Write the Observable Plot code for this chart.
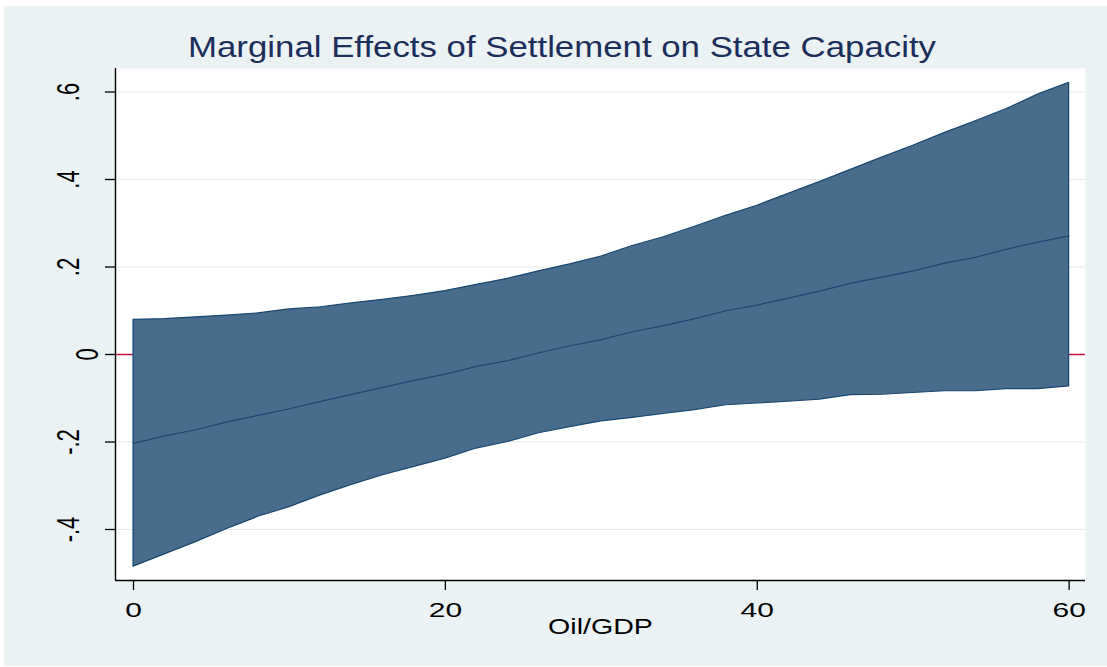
<!DOCTYPE html>
<html><head><meta charset="utf-8">
<script src="https://cdn.jsdelivr.net/npm/d3@7"></script>
<script src="https://cdn.jsdelivr.net/npm/@observablehq/plot@0.6"></script>
<style>
body{margin:0;background:#fff;}
#wrap{position:relative;width:1107px;height:667px;overflow:hidden;font-family:"Liberation Sans",Arial,sans-serif;}
#bg{position:absolute;left:4px;top:6px;width:1103px;height:660px;background:#eaf2f3;}
#chart{position:absolute;left:0;top:0;}
#title{position:absolute;left:162px;width:800px;top:33px;text-align:center;font-size:29px;line-height:29px;color:#1c2f5c;transform:scaleX(1.2);white-space:nowrap;}
</style></head><body>
<div id="wrap"><div id="bg"></div><div id="chart"></div><div id="title"></div></div>
<script>
const title = "Marginal Effects of Settlement on State Capacity";
const xLabel = "Oil/GDP";
const oilGDP = [0,2,4,6,8,10,12,14,16,18,20,22,24,26,28,30,32,34,36,38,40,42,44,46,48,50,52,54,56,58,60];
const effect = [-0.203,-0.186,-0.172,-0.154,-0.139,-0.124,-0.107,-0.091,-0.075,-0.059,-0.045,-0.027,-0.014,0.004,0.020,0.034,0.052,0.066,0.082,0.100,0.113,0.129,0.145,0.163,0.177,0.191,0.209,0.222,0.241,0.257,0.271];
const lower = [-0.485,-0.457,-0.429,-0.399,-0.371,-0.349,-0.322,-0.298,-0.276,-0.257,-0.238,-0.215,-0.200,-0.180,-0.166,-0.153,-0.145,-0.136,-0.127,-0.116,-0.112,-0.108,-0.103,-0.093,-0.092,-0.088,-0.084,-0.084,-0.079,-0.079,-0.073];
const upper = [0.079,0.081,0.085,0.089,0.094,0.103,0.108,0.117,0.125,0.134,0.145,0.159,0.173,0.190,0.206,0.224,0.248,0.268,0.292,0.317,0.340,0.367,0.394,0.422,0.450,0.477,0.506,0.533,0.561,0.594,0.621];
const xTicks = [0,20,40,60];
const yTicks = [-0.4,-0.2,0,0.2,0.4,0.6];
const yTickLabels = ["-.4","-.2","0",".2",".4",".6"];

document.getElementById("title").textContent = title;

const data = oilGDP.map((x,i)=>({x, me: effect[i], lo: lower[i], hi: upper[i]}));
const navy = "#1a476f";
const bandFill = "#476c8c";
const xDomain = [-1.155, 61.05];
const yDomain = [-0.5166, 0.6537];
const font = "Liberation Sans, Arial, sans-serif";

const plot = Plot.plot({
  width: 1107, height: 667,
  marginLeft: 115, marginRight: 22, marginTop: 68, marginBottom: 87,
  style: {background: "transparent", fontFamily: font, color: "#000", overflow: "visible"},
  x: {domain: xDomain, axis: null},
  y: {domain: yDomain, axis: null},
  marks: [
    Plot.frame({fill: "white", stroke: null}),
    Plot.gridY(yTicks.filter(d => d !== 0), {stroke: "#e2eaec", strokeOpacity: 1, strokeWidth: 1}),
    Plot.ruleY([0], {stroke: "#c8103c", strokeWidth: 1.3}),
    Plot.areaY(data, {x: "x", y1: "lo", y2: "hi", fill: bandFill, stroke: navy, strokeWidth: 1.2}),
    Plot.lineY(data, {x: "x", y: "me", stroke: navy, strokeWidth: 1.2}),
    Plot.ruleX([xDomain[0]], {stroke: "#000", strokeWidth: 1.4}),
    Plot.ruleY([yDomain[0]], {stroke: "#000", strokeWidth: 1.4}),
    Plot.axisX({ticks: xTicks, tickSize: 10, tickPadding: 12, fontSize: 20, label: null, strokeWidth: 1.3}),
    Plot.axisY({ticks: yTicks, tickSize: 10, tickFormat: () => "", label: null, strokeWidth: 1.3}),
    Plot.text(yTicks.filter(d => d !== 0), {y: d => d, text: d => yTickLabels[yTicks.indexOf(d)], frameAnchor: "left", rotate: -90, lineAnchor: "bottom", textAnchor: "middle", dx: -37, fontSize: 22, fill: "#000"}),
    Plot.text(yTicks.filter(d => d === 0), {y: d => d, text: d => yTickLabels[yTicks.indexOf(d)], frameAnchor: "left", rotate: -90, lineAnchor: "bottom", textAnchor: "middle", dx: -18, fontSize: 22, fill: "#000"}),
    Plot.text([xLabel], {frameAnchor: "bottom", dy: 53, fontSize: 22, fill: "#000"})
  ]
});
document.getElementById("chart").appendChild(plot);

function stretchNodes(nodes, s) {
  nodes.each(function() {
    const t = this.getAttribute("transform");
    const m = t && t.match(/^\s*translate\(\s*([-\d.eE]+)[\s,]+([-\d.eE]+)\s*\)(.*)$/);
    if (m) {
      this.setAttribute("transform", `translate(${m[1]},${m[2]}) scale(${s},1)${m[3]}`);
    } else {
      const x = +(this.getAttribute("x") || 0);
      this.setAttribute("transform", `translate(${x},0) scale(${s},1) translate(${-x},0)` + (t ? " " + t : ""));
    }
  });
}
stretchNodes(d3.select(plot).selectAll("g[aria-label='x-axis tick label'] text"), 1.5);
const textGroups = d3.select(plot).selectAll("g[aria-label='text']").nodes();
if (textGroups.length >= 3) {
  stretchNodes(d3.select(textGroups[0]).selectAll("text"), 1.4);
  stretchNodes(d3.select(textGroups[1]).selectAll("text"), 1.4);
  stretchNodes(d3.select(textGroups[2]).selectAll("text"), 1.3);
}
</script>
</body></html>
